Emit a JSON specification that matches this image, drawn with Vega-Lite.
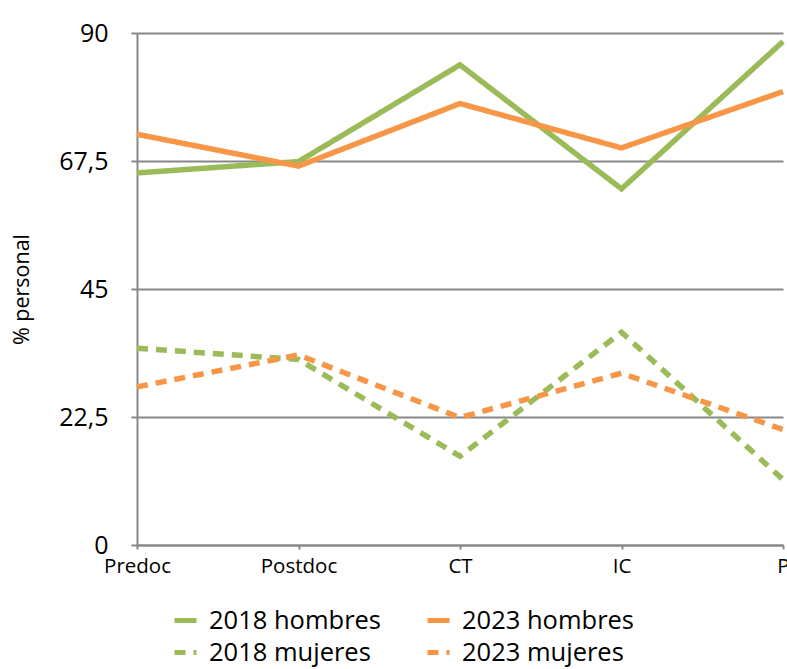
{
  "$schema": "https://vega.github.io/schema/vega-lite/v6.json",
  "width": 646,
  "height": 512,
  "autosize": {"type": "none"},
  "padding": {"left": 137, "top": 33, "right": 4, "bottom": 124},
  "background": "white",
  "data": {
    "values": [
      {"cat": "Predoc", "serie": "2018 hombres", "v": 65.4},
      {"cat": "Postdoc", "serie": "2018 hombres", "v": 67.4},
      {"cat": "CT", "serie": "2018 hombres", "v": 84.4},
      {"cat": "IC", "serie": "2018 hombres", "v": 62.6},
      {"cat": "P", "serie": "2018 hombres", "v": 88.5},
      {"cat": "Predoc", "serie": "2023 hombres", "v": 72.2},
      {"cat": "Postdoc", "serie": "2023 hombres", "v": 66.6},
      {"cat": "CT", "serie": "2023 hombres", "v": 77.6},
      {"cat": "IC", "serie": "2023 hombres", "v": 69.8},
      {"cat": "P", "serie": "2023 hombres", "v": 79.7},
      {"cat": "Predoc", "serie": "2018 mujeres", "v": 34.6},
      {"cat": "Postdoc", "serie": "2018 mujeres", "v": 32.6},
      {"cat": "CT", "serie": "2018 mujeres", "v": 15.6},
      {"cat": "IC", "serie": "2018 mujeres", "v": 37.4},
      {"cat": "P", "serie": "2018 mujeres", "v": 11.5},
      {"cat": "Predoc", "serie": "2023 mujeres", "v": 27.8},
      {"cat": "Postdoc", "serie": "2023 mujeres", "v": 33.4},
      {"cat": "CT", "serie": "2023 mujeres", "v": 22.4},
      {"cat": "IC", "serie": "2023 mujeres", "v": 30.2},
      {"cat": "P", "serie": "2023 mujeres", "v": 20.3}
    ]
  },
  "mark": {"type": "line", "strokeWidth": 5.5, "clip": false},
  "encoding": {
    "x": {
      "field": "cat",
      "type": "ordinal",
      "sort": ["Predoc", "Postdoc", "CT", "IC", "P"],
      "scale": {"type": "point", "padding": 0},
      "axis": {
        "title": null,
        "labelAngle": 0,
        "labelFont": "Open Sans",
        "labelFontSize": 20.5,
        "labelColor": "#000000",
        "labelPadding": 7,
        "domainColor": "#888888",
        "domainWidth": 2,
        "tickColor": "#888888",
        "tickWidth": 2,
        "tickSize": 4,
        "grid": false
      }
    },
    "y": {
      "field": "v",
      "type": "quantitative",
      "scale": {"domain": [0, 90], "nice": false},
      "axis": {
        "title": "% personal",
        "titleFont": "Open Sans",
        "titleFontSize": 21.5,
        "titleFontWeight": "normal",
        "titleColor": "#000000",
        "titleX": -109,
        "titleY": 256,
        "titleBaseline": "alphabetic",
        "titleAlign": "center",
        "values": [0, 22.5, 45, 67.5, 90],
        "labelExpr": "replace(format(datum.value, '.1~f'), '.', ',')",
        "labelFont": "Open Sans",
        "labelFontSize": 25,
        "labelColor": "#000000",
        "labelPadding": 23,
        "domainColor": "#888888",
        "domainWidth": 2,
        "tickColor": "#888888",
        "tickWidth": 2,
        "tickSize": 6,
        "grid": true,
        "gridColor": "#888888",
        "gridWidth": 2
      }
    },
    "color": {
      "field": "serie",
      "type": "nominal",
      "scale": {
        "domain": ["2018 hombres", "2018 mujeres", "2023 hombres", "2023 mujeres"],
        "range": ["#9BBB59", "#9BBB59", "#F79646", "#F79646"]
      },
      "legend": {
        "title": null,
        "orient": "none",
        "legendX": 35,
        "legendY": 574,
        "columns": 2,
        "values": ["2018 hombres", "2018 mujeres", "2023 hombres", "2023 mujeres"],
        "symbolType": "stroke",
        "symbolSize": 484,
        "symbolStrokeWidth": 5,
        "labelFont": "Open Sans",
        "labelFontSize": 25.5,
        "labelColor": "#000000",
        "labelOffset": 10,
        "labelLimit": 0,
        "rowPadding": 5,
        "columnPadding": 35
      }
    },
    "strokeDash": {
      "field": "serie",
      "type": "nominal",
      "scale": {
        "domain": ["2018 hombres", "2018 mujeres", "2023 hombres", "2023 mujeres"],
        "range": [[1, 0], [11, 8], [1, 0], [11, 8]]
      },
      "legend": null
    }
  },
  "config": {
    "view": {"stroke": null}
  }
}
